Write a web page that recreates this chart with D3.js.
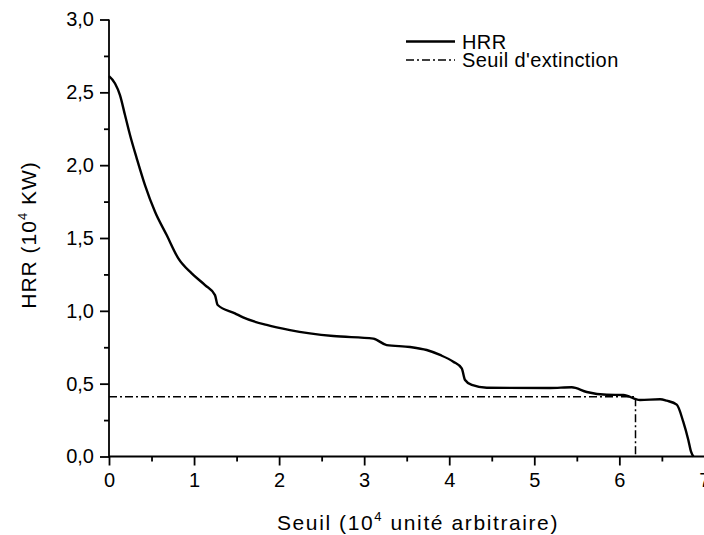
<!DOCTYPE html>
<html><head><meta charset="utf-8">
<script src="https://cdn.jsdelivr.net/npm/d3@7"></script>
<style>
html,body{margin:0;padding:0;background:#fff;}
text{font-family:"Liberation Sans",Arial,Helvetica,sans-serif;fill:#000;}
</style></head>
<body>
<svg id="chart" width="704" height="535"></svg>
<script>
// Data
const hrrX = [0,0.071,0.129,0.188,0.247,0.326,0.423,0.541,0.678,0.815,0.972,1.129,1.246,1.278,1.481,1.576,1.854,2.128,2.637,3.108,3.265,3.539,3.735,3.892,4.048,4.147,4.186,4.265,4.441,5.185,5.440,5.617,5.852,6.047,6.243,6.479,6.557,6.675,6.752,6.811,6.843,6.870];
const hrrY = [2.611,2.561,2.481,2.344,2.207,2.047,1.863,1.680,1.520,1.360,1.257,1.177,1.108,1.040,0.983,0.955,0.903,0.868,0.827,0.809,0.765,0.752,0.731,0.697,0.651,0.605,0.525,0.491,0.472,0.470,0.475,0.443,0.424,0.422,0.388,0.393,0.383,0.356,0.237,0.113,0.033,0];
const thresholdValue = 0.41;
const thresholdSeuil = 6.19;
const xTicks = [0,1,2,3,4,5,6,7];
const yTicks = [0,0.5,1.0,1.5,2.0,2.5,3.0];
const seriesNames = ["HRR","Seuil d'extinction"];

const svg = d3.select("#chart");
const x = d3.scaleLinear().domain([0,7]).range([109,704.4]);
const y = d3.scaleLinear().domain([0,3]).range([456.5,19.5]);
const fmt = v => d3.format(".1f")(v).replace(".", ",");

// Axes
const xAxis = svg.append("g").attr("transform",`translate(0,${y(0)})`)
  .call(d3.axisBottom(x).tickValues(xTicks).tickSize(9).tickPadding(7).tickFormat(d3.format("d")));
const xMinor = svg.append("g").attr("transform",`translate(0,${y(0)})`)
  .call(d3.axisBottom(x).tickValues(d3.range(0.5,7,1)).tickSize(5).tickFormat(""));
const yAxis = svg.append("g").attr("transform",`translate(${x(0)},0)`)
  .call(d3.axisLeft(y).tickValues(yTicks).tickSize(9).tickPadding(6).tickFormat(fmt));
const yMinor = svg.append("g").attr("transform",`translate(${x(0)},0)`)
  .call(d3.axisLeft(y).tickValues(d3.range(0.25,3,0.5)).tickSize(5).tickFormat(""));
[xAxis,xMinor,yAxis,yMinor].forEach(g=>{
  g.selectAll("line").attr("stroke","#000").attr("stroke-width",1.8);
  g.select("path.domain").remove();
  g.selectAll("text").style("font-size","20px").attr("fill","#000");
});
svg.append("line").attr("x1",x(0)).attr("x2",x(7)).attr("y1",y(0)).attr("y2",y(0)).attr("stroke","#000").attr("stroke-width",1.8);
svg.append("line").attr("x1",x(0)).attr("x2",x(0)).attr("y1",y(0)+0.9).attr("y2",y(3)).attr("stroke","#000").attr("stroke-width",1.8);
xAxis.selectAll("text").attr("dy","0.71em");

// Threshold line
const thr = [[0,thresholdValue],[thresholdSeuil,thresholdValue],[thresholdSeuil,0]];
svg.append("path").datum(thr)
  .attr("d", d3.line().x(d=>x(d[0])).y(d=>y(d[1])))
  .attr("fill","none").attr("stroke","#000").attr("stroke-width",1.5)
  .attr("stroke-dasharray","8,3,2,3");

// HRR curve
const hrr = hrrX.map((v,i)=>[v,hrrY[i]]);
svg.append("path").datum(hrr)
  .attr("d", d3.line().x(d=>x(d[0])).y(d=>y(d[1])).curve(d3.curveMonotoneX))
  .attr("fill","none").attr("stroke","#000").attr("stroke-width",2.4).attr("stroke-linejoin","round");

// Legend
const leg = svg.append("g");
seriesNames.forEach((name,i)=>{
  const ly = 41.5 + i*18.5;
  leg.append("line").attr("x1",406).attr("x2",455).attr("y1",ly).attr("y2",ly)
    .attr("stroke","#000").attr("stroke-width", i===0?2.4:1.5)
    .attr("stroke-dasharray", i===0?null:"8,3,2,3");
  leg.append("text").attr("x",462).attr("y",ly+7).text(name)
    .style("font-size","20px").style("letter-spacing","0.4px");
});

// Axis titles
const xt = svg.append("text").attr("x",418).attr("y",530).attr("text-anchor","middle")
  .style("font-size","21px").style("letter-spacing","1.6px");
xt.append("tspan").text("Seuil (10");
xt.append("tspan").text("4").style("font-size","13px").attr("dy","-9");
xt.append("tspan").text(" unité arbitraire)").attr("dy","9");

const yt = svg.append("text").attr("transform","translate(36,235) rotate(-90)").attr("text-anchor","middle")
  .style("font-size","21px").style("letter-spacing","1px");
yt.append("tspan").text("HRR (10");
yt.append("tspan").text("4").style("font-size","13px").attr("dy","-9");
yt.append("tspan").text(" KW)").attr("dy","9");
</script>
</body></html>
